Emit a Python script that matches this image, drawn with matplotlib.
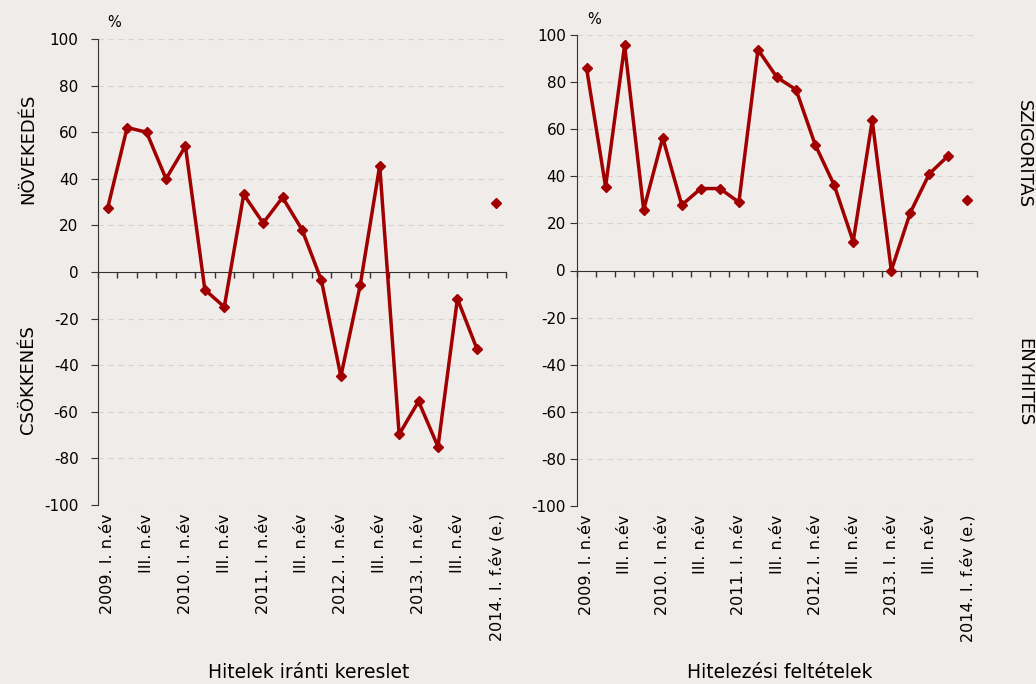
import numpy as np
import matplotlib
matplotlib.use("Agg")
from matplotlib import pyplot as plt

plt.rcParams['font.family'] = ['DejaVu Sans']
plt.rcParams['axes.unicode_minus'] = False

# quarterly survey balances, 2009 Q1 - 2013 Q4, plus the 2014 H1 expectation
quarter_labels = ["2009. I. n.év", "III. n.év", "2010. I. n.év", "III. n.év",
                  "2011. I. n.év", "III. n.év", "2012. I. n.év", "III. n.év",
                  "2013. I. n.év", "III. n.év", "2014. I. f.év (e.)"]
demand = [27.5, 62, 60, 40, 54, -7.6, -15, 33.3, 21, 32,
          18.2, -3.6, -44.8, -5.5, 45.7, -69.7, -55.5, -75, -11.5, -32.9]
demand_exp = 29.7
conditions = [86, 35.6, 95.6, 25.8, 56.4, 27.8, 34.8, 34.8, 29, 93.8,
              82, 76.8, 53.5, 36.3, 12.3, 63.7, 0, 24.6, 41.1, 48.8]
conditions_exp = 29.9

bg = '#efecea'
red = '#a00000'
axis_col = '#333333'

fig = plt.figure(figsize=(10.36, 6.84), dpi=100, facecolor=bg)
ax1 = fig.add_axes([98/1036, 1-505/684, 408/1036, 466/684])
ax2 = fig.add_axes([577/1036, 1-506/684, 400/1036, 471/684])

n = len(demand) + 1
xs = np.arange(len(demand))
label_pos = np.arange(0, n, 2)


def draw_panel(ax, values, expected, ypad, pct_x, pct_y):
    ax.set_facecolor(bg)
    ax.plot(xs, values, color=red, lw=2.5, marker='D', ms=5.5, zorder=3)
    ax.plot([n - 1], [expected], ls='none', color=red, marker='D', ms=5.5, zorder=3)
    ax.set_xlim(-0.5, n - 0.5)
    ax.set_ylim(-100, 100)
    ax.set_yticks(np.arange(-100, 101, 20))
    for y in np.arange(-100, 101, 20):
        if y != 0:
            ax.axhline(y, color='#d6d3d0', lw=0.8, ls=(0, (5, 4)), zorder=1)
    for s in ['top', 'right']:
        ax.spines[s].set_visible(False)
    ax.spines['left'].set_color(axis_col)
    ax.spines['bottom'].set_position(('data', 0))
    ax.spines['bottom'].set_color(axis_col)
    ax.spines['bottom'].set_zorder(2)
    ax.set_xticks(np.arange(n + 1) - 0.5)
    ax.set_xticklabels([])
    ax.tick_params(axis='x', direction='out', length=4, color=axis_col, width=1)
    ax.tick_params(axis='y', direction='out', length=5, color=axis_col,
                   labelsize=11, pad=ypad)
    # category labels sit below the plot, not on the zero line
    sec = ax.secondary_xaxis(0.0)
    sec.set_xticks(label_pos, quarter_labels, rotation=90, fontsize=11.5)
    sec.tick_params(length=0, pad=6)
    sec.spines['bottom'].set_visible(False)
    ax.text(pct_x, pct_y, '%', transform=ax.transAxes, fontsize=10.5,
            ha='left', va='center')


draw_panel(ax1, demand, demand_exp, 9, 0.022, 1.035)
draw_panel(ax2, conditions, conditions_exp, 3, 0.025, 1.032)

fig.text(0.298, 0.0175, 'Hitelek iránti kereslet', fontsize=13.5, ha='center', va='center')
fig.text(0.753, 0.0175, 'Hitelezési feltételek', fontsize=13.5, ha='center', va='center')

fig.text(28/1036, 1-149/684, 'NÖVEKEDÉS', rotation=90, ha='center', va='center', fontsize=13)
fig.text(28/1036, 1-380/684, 'CSÖKKENÉS', rotation=90, ha='center', va='center', fontsize=13)
fig.text(1024/1036, 1-154/684, 'SZIGORÍTÁS', rotation=-90, ha='center', va='center', fontsize=13)
fig.text(1024/1036, 1-382/684, 'ENYHÍTÉS', rotation=-90, ha='center', va='center', fontsize=13)

fig.savefig('out.png', dpi=100, facecolor=bg)
